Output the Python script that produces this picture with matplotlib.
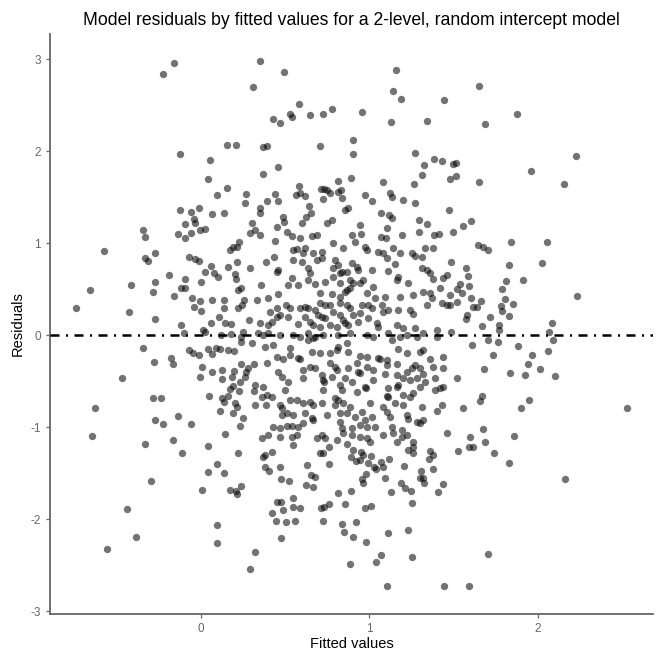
import matplotlib
matplotlib.use("Agg")
import matplotlib.pyplot as plt

# fitted values / residuals, top of the plot downwards
fitted = [
    -0.162, -0.228, 0.307, 0.151, 0.205, -0.127, 0.054, 0.040, 0.151, 0.092,
    0.268, 0.262, -0.127, -0.059, -0.015, 0.064, 0.137, -0.043, -0.097, -0.039,
    -0.345, -0.333, -0.140, -0.063, -0.010, 0.024, -0.095, 0.301, 0.291, 0.317,
    0.349, 0.490, 1.158, 1.142, 1.187, 1.443, 0.583, 0.527, 0.539, 0.646,
    0.725, 0.779, 0.954, 0.428, 0.468, 1.128, 1.342, 0.904, 0.904, 0.369,
    0.389, 0.704, 0.454, 0.365, 1.269, 1.385, 1.433, 1.322, 1.496, 1.514,
    1.312, 1.479, 1.512, 0.890, 0.811, 1.078, 1.266, 0.583, 0.710, 0.730,
    0.749, 0.765, 0.811, 0.832, 0.837, 0.563, 0.587, 0.617, 0.438, 0.389,
    0.454, 0.722, 0.973, 1.013, 1.122, 1.132, 1.197, 1.269, 0.642, 0.650,
    0.349, 0.349, 0.854, 0.874, 1.068, 1.118, 1.132, 1.474, 0.488, 0.493,
    0.597, 0.622, 0.746, 0.775, 0.448, 0.944, 1.102, 1.294, 1.342, 1.296,
    1.495, 1.385, 1.415, 0.349, 0.508, 0.537, 0.587, 0.656, 0.686, 0.898,
    0.948, 1.068, 1.098, 1.649, 1.877, 1.687, 2.226, 1.958, 2.155, 1.653,
    1.605, 1.556,
    # left middle
    -0.578, -0.273, -0.333, -0.317, -0.075, -0.039, -0.014, 0.169, 0.188, 0.214,
    0.224, 0.159, 0.214, 0.291, 0.059, 0.024, 0.076, 0.099, 0.199, 0.205,
    -0.662, -0.416, -0.277, -0.287, -0.194, -0.097, -0.004, -0.122, -0.099, -0.162,
    0.218, 0.238, -0.054, -0.010, 0.065, 0.135, 0.254, -0.045, -0.004, 0.135,
    0.218, 0.244, -0.743, -0.428, -0.277, 0.103, 0.059, 0.143, 0.178, 0.284,
    -0.119, -0.105, 0.010, 0.020, 0.119, 0.178, 0.248, 0.238, 0.234, 0.301,
    -0.348, -0.075, -0.049, -0.015, 0.040, 0.089, 0.109, 0.065, 0.159, 0.194,
    -0.281, -0.178, -0.168, 0.006, 0.062, 0.123, 0.194, 0.238, 0.278, 0.268,
    0.313, -0.008, 0.125, 0.184, 0.262, 0.228, 0.188, 0.169, 0.222, 0.317,
    0.313, -0.470, 0.044, 0.123, 0.135, 0.159, 0.199, 0.214, 0.321, -0.287,
    -0.241, -0.630, 0.111, 0.188, 0.248, -0.139, -0.273, -0.228, -0.063, 0.228,
    -0.652, -0.168, 0.139,
    # right middle
    1.841, 2.057, 1.647, 1.677, 1.706, 1.828, 2.027, 1.485, 1.574, 1.587,
    1.538, 1.518, 1.548, 1.593, 1.810, 1.911, 1.790, 2.232, 1.605, 1.663,
    1.522, 1.479, 1.617, 1.641, 1.806, 1.851, 1.780, 1.786, 1.831, 1.716,
    1.578, 1.574, 2.083, 1.669, 1.770, 1.772, 1.485, 2.069, 2.093, 1.703,
    1.766, 1.609, 1.883, 2.059, 1.736, 1.964, 1.944, 2.014, 1.681, 1.835,
    1.926, 2.105, 1.518, 1.667, 1.657, 1.950, 1.901, 1.556, 2.529, 1.677,
    1.596, 1.857, 1.687,
    # centre, above zero
    0.438, 0.785, 0.914, 1.191, 0.543, 0.567, 0.617, 0.606, 0.666, 0.716,
    0.844, 0.973, 0.983, 1.052, 1.082, 1.138, 1.181, 1.251, 1.271, 1.330,
    1.379, 0.385, 0.432, 0.547, 0.597, 0.686, 0.716, 0.795, 0.815, 0.894,
    0.924, 1.102, 1.152, 1.310, 0.458, 0.448, 0.636, 0.646, 0.785, 0.835,
    0.864, 0.933, 1.013, 1.112, 1.310, 1.340, 1.360, 0.537, 0.636, 0.735,
    0.785, 0.825, 0.884, 0.904, 0.963, 1.171, 1.162, 1.376, 1.459, 1.439,
    0.353, 0.517, 0.577, 0.676, 0.825, 0.864, 0.884, 0.944, 1.023, 1.231,
    1.419, 0.329, 0.398, 0.458, 0.706, 0.775, 0.825, 0.854, 0.983, 1.033,
    1.092, 1.181, 1.257, 1.320, 1.360, 1.370, 1.479, 0.448, 0.504, 0.527,
    0.587, 0.617, 0.636, 0.676, 0.706, 0.735, 0.765, 0.785, 0.825, 0.864,
    0.884, 0.954, 0.993, 1.013, 1.073, 1.112, 1.171, 1.340, 1.429, 1.459,
    0.408, 0.448, 0.468, 0.517, 0.617, 0.696, 0.716, 0.735, 0.825, 0.844,
    0.904, 0.944, 0.993, 1.082, 1.241, 1.260, 0.349, 0.398, 0.419, 0.577,
    0.646, 0.662, 0.706, 0.765, 0.805, 0.854, 0.874, 0.933, 1.043, 1.052,
    1.162, 1.201, 1.271, 1.400, 0.339, 0.369, 0.398, 0.468, 0.547, 0.587,
    0.636, 0.676, 0.725, 0.815, 0.884, 0.983, 1.023, 1.112, 1.181, 1.221,
    1.320, 1.400,
    # centre, below zero
    0.379, 0.428, 0.527, 0.815, 0.864, 0.636, 0.666, 1.132, 1.281, 0.448,
    0.488, 0.527, 0.577, 0.656, 0.706, 0.765, 0.805, 0.874, 0.944, 0.983,
    1.052, 1.102, 1.171, 1.221, 1.300, 1.320, 1.360, 1.439, 0.584, 1.062,
    0.389, 0.458, 0.606, 0.646, 0.676, 0.765, 0.795, 0.805, 0.874, 0.924,
    0.933, 0.983, 1.023, 1.102, 1.162, 1.221, 1.251, 1.271, 1.300, 1.379,
    1.435, 0.941, 0.478, 0.517, 0.606, 0.716, 0.725, 0.775, 0.825, 0.854,
    0.894, 0.973, 1.023, 1.092, 1.162, 1.171, 1.201, 1.241, 1.281, 1.320,
    1.330, 1.389, 0.732, 0.982, 0.369, 0.359, 0.389, 0.419, 0.498, 0.725,
    0.835, 0.924, 1.102, 1.112, 1.162, 1.201, 1.260, 1.300, 1.419, 1.439,
    1.389, 1.110, 0.468, 0.527, 0.567, 0.606, 0.646, 0.666, 0.716, 0.795,
    0.815, 0.844, 0.795, 0.884, 1.003, 1.082, 1.102, 1.152, 1.201, 1.241,
    1.310, 1.429, 0.385, 0.477, 0.478, 0.508, 0.547, 0.617, 0.656, 0.746,
    0.825, 0.864, 0.914, 0.954, 0.973, 1.013, 1.122, 1.221, 1.231, 1.281,
    1.320, 1.400, 0.664, 0.428, 0.468, 0.508, 0.537, 0.577, 0.606, 0.825,
    0.835, 0.894, 0.944, 0.983, 1.033, 1.132, 1.191, 1.300, 0.359, 0.398,
    0.468, 0.537, 0.567, 0.686, 0.716, 0.735, 0.805, 0.844, 0.894, 0.944,
    0.983, 1.003, 1.082, 1.142, 1.191, 1.221, 1.162, 1.260, 1.459,
    # lower left
    -0.337, -0.117, 0.040, 0.218, 0.093, 0.040, 0.133, -0.301, 0.004, 0.169,
    0.208, 0.214, 0.238, -0.442, 0.093, -0.390, 0.093, -0.559, 0.321, 0.291,
    # lower centre
    0.547, 0.379, 0.419, 0.369, 0.379, 0.404, 0.468, 0.472, 0.521, 0.627,
    0.652, 0.676, 0.622, 0.662, 0.706, 0.722, 0.759, 0.759, 0.864, 0.890,
    0.904, 0.920, 0.944, 0.948, 0.963, 1.007, 0.993, 1.027, 1.039, 1.067,
    1.078, 0.979, 0.954, 0.960, 1.114, 1.092, 1.128, 1.257, 1.231, 1.260,
    1.205, 1.187, 1.211, 1.247, 1.254, 1.360, 1.376, 1.356, 1.376, 1.304,
    1.300, 1.320, 1.326, 1.439, 1.405, 1.528, 0.811, 0.890, 0.854, 0.710,
    0.730, 0.759, 0.725, 0.448, 0.472, 0.543, 0.547, 0.587, 0.488, 0.422,
    0.442, 0.502, 0.557, 0.973, 1.007, 0.838, 0.850, 0.920, 0.900, 0.979,
    1.112, 1.231, 0.474, 0.884, 1.067, 1.039, 1.254, 1.102, 1.445,
    # lower right
    1.592, 1.617, 1.740, 1.829, 2.162, 1.703, 1.592,
]

resid = [
    2.963, 2.840, 2.702, 2.072, 2.065, 1.974, 1.902, 1.696, 1.601, 1.522,
    1.533, 1.438, 1.362, 1.343, 1.384, 1.315, 1.333, 1.261, 1.210, 1.224,
    1.148, 1.065, 1.098, 1.115, 1.145, 1.152, 1.061, 1.217, 1.115, 1.145,
    2.982, 2.865, 2.887, 2.659, 2.568, 2.554, 2.511, 2.405, 2.376, 2.391,
    2.402, 2.457, 2.430, 2.348, 2.311, 2.318, 2.333, 2.120, 1.974, 2.047,
    2.061, 2.054, 1.826, 1.753, 1.985, 1.920, 1.895, 1.854, 1.859, 1.876,
    1.742, 1.699, 1.732, 1.707, 1.680, 1.670, 1.645, 1.620, 1.587, 1.593,
    1.579, 1.543, 1.554, 1.579, 1.489, 1.525, 1.543, 1.517, 1.533, 1.463,
    1.463, 1.478, 1.522, 1.457, 1.543, 1.507, 1.474, 1.438, 1.409, 1.326,
    1.387, 1.326, 1.362, 1.380, 1.333, 1.304, 1.272, 1.359, 1.283, 1.235,
    1.224, 1.283, 1.224, 1.253, 1.180, 1.199, 1.163, 1.253, 1.213, 1.126,
    1.120, 1.090, 1.098, 1.090, 1.126, 1.079, 1.054, 1.083, 1.090, 1.090,
    1.101, 1.072, 1.061, 2.713, 2.402, 2.293, 1.949, 1.786, 1.645, 1.666,
    1.246, 1.191,
    # left middle
    0.916, 0.891, 0.837, 0.808, 0.854, 0.829, 0.808, 0.927, 0.963, 0.963,
    1.017, 0.746, 0.793, 0.728, 0.753, 0.691, 0.674, 0.637, 0.663, 0.609,
    0.492, 0.547, 0.583, 0.474, 0.655, 0.612, 0.576, 0.511, 0.511, 0.430,
    0.492, 0.517, 0.409, 0.373, 0.384, 0.384, 0.384, 0.311, 0.264, 0.293,
    0.300, 0.329, 0.300, 0.250, 0.177, 0.196, 0.137, 0.137, 0.120, 0.166,
    0.112, 0.028, 0.058, 0.039, 0.003, 0.014, 0.033, -0.015, -0.076, -0.087,
    -0.141, -0.160, -0.196, -0.214, -0.149, -0.141, -0.149, -0.203, -0.160, -0.171,
    -0.287, -0.243, -0.312, -0.348, -0.396, -0.377, -0.388, -0.315, -0.359, -0.396,
    -0.315, -0.450, -0.475, -0.450, -0.450, -0.504, -0.548, -0.584, -0.602, -0.540,
    -0.602, -0.467, -0.660, -0.678, -0.722, -0.657, -0.739, -0.776, -0.758, -0.685,
    -0.685, -0.793, -0.820, -0.848, -0.896, -0.877, -0.921, -0.967, -0.964, -0.986,
    -1.098, -1.141, -1.073,
    # right middle
    1.011, 1.011, 0.982, 0.957, 0.927, 0.764, 0.783, 0.793, 0.728, 0.648,
    0.554, 0.500, 0.457, 0.539, 0.593, 0.601, 0.503, 0.424, 0.409, 0.373,
    0.359, 0.329, 0.308, 0.308, 0.391, 0.337, 0.315, 0.264, 0.210, 0.202,
    0.221, 0.174, 0.130, 0.098, 0.112, 0.058, 0.039, 0.033, -0.054, -0.051,
    -0.073, -0.109, -0.120, -0.171, -0.214, -0.217, -0.315, -0.370, -0.370, -0.410,
    -0.432, -0.442, -0.467, -0.663, -0.714, -0.703, -0.787, -0.793, -0.787, -1.018,
    -1.109, -1.098, -1.163,
    # centre, above zero
    1.025, 1.000, 1.011, 1.090, 0.927, 0.938, 0.946, 0.891, 0.891, 0.909,
    0.946, 0.963, 0.927, 0.909, 0.891, 0.952, 0.891, 0.891, 0.865, 0.946,
    0.946, 0.793, 0.854, 0.818, 0.800, 0.818, 0.837, 0.818, 0.764, 0.783,
    0.746, 0.837, 0.772, 0.854, 0.710, 0.691, 0.728, 0.674, 0.728, 0.691,
    0.691, 0.710, 0.710, 0.699, 0.735, 0.710, 0.674, 0.620, 0.601, 0.583,
    0.637, 0.674, 0.601, 0.565, 0.601, 0.637, 0.601, 0.612, 0.655, 0.626,
    0.547, 0.547, 0.547, 0.554, 0.565, 0.492, 0.511, 0.565, 0.528, 0.565,
    0.511, 0.384, 0.402, 0.446, 0.457, 0.446, 0.420, 0.474, 0.457, 0.402,
    0.420, 0.420, 0.438, 0.474, 0.457, 0.409, 0.438, 0.300, 0.329, 0.293,
    0.293, 0.311, 0.300, 0.275, 0.348, 0.329, 0.329, 0.257, 0.348, 0.329,
    0.293, 0.329, 0.329, 0.293, 0.329, 0.275, 0.275, 0.329, 0.348, 0.329,
    0.257, 0.202, 0.221, 0.202, 0.202, 0.221, 0.202, 0.185, 0.221, 0.166,
    0.221, 0.239, 0.185, 0.257, 0.275, 0.228, 0.130, 0.112, 0.141, 0.120,
    0.141, 0.112, 0.093, 0.112, 0.093, 0.130, 0.112, 0.148, 0.130, 0.093,
    0.112, 0.076, 0.076, 0.058, 0.022, 0.003, 0.022, 0.003, 0.003, -0.015,
    0.022, -0.015, 0.003, 0.003, 0.022, 0.003, -0.015, 0.022, -0.015, 0.003,
    0.022, -0.015,
    # centre, below zero
    -0.124, -0.105, -0.141, -0.124, -0.087, -0.051, -0.033, -0.051, -0.015, -0.233,
    -0.258, -0.214, -0.243, -0.178, -0.196, -0.196, -0.160, -0.178, -0.222, -0.233,
    -0.243, -0.268, -0.149, -0.196, -0.178, -0.160, -0.258, -0.233, -0.263, -0.258,
    -0.304, -0.396, -0.377, -0.341, -0.359, -0.304, -0.341, -0.377, -0.359, -0.304,
    -0.396, -0.341, -0.377, -0.323, -0.315, -0.396, -0.359, -0.323, -0.359, -0.341,
    -0.352, -0.410, -0.450, -0.504, -0.467, -0.432, -0.486, -0.450, -0.540, -0.467,
    -0.504, -0.559, -0.486, -0.424, -0.432, -0.540, -0.467, -0.486, -0.461, -0.424,
    -0.504, -0.467, -0.508, -0.573, -0.559, -0.667, -0.649, -0.667, -0.595, -0.595,
    -0.595, -0.613, -0.657, -0.576, -0.559, -0.649, -0.630, -0.559, -0.576, -0.559,
    -0.595, -0.676, -0.758, -0.703, -0.703, -0.739, -0.722, -0.758, -0.739, -0.685,
    -0.703, -0.739, -0.758, -0.776, -0.739, -0.776, -0.830, -0.739, -0.758, -0.667,
    -0.776, -0.758, -0.758, -0.785, -0.866, -0.848, -0.866, -0.848, -0.902, -0.866,
    -0.848, -0.848, -0.885, -0.830, -0.921, -0.885, -0.885, -0.866, -0.910, -0.946,
    -0.921, -0.823, -0.926, -0.993, -1.011, -0.983, -0.983, -0.993, -0.957, -0.939,
    -1.011, -1.011, -0.975, -0.993, -0.993, -0.993, -1.029, -0.957, -1.120, -1.084,
    -1.102, -1.102, -1.084, -1.120, -1.084, -1.120, -1.138, -1.065, -1.084, -1.102,
    -1.120, -1.157, -1.084, -1.065, -1.102, -1.084, -1.157, -1.157, -1.065,
    # lower left
    -1.185, -1.283, -1.207, -1.283, -1.402, -1.489, -1.500, -1.580, -1.682, -1.682,
    -1.689, -1.728, -1.635, -1.891, -2.062, -2.196, -2.254, -2.326, -2.352, -2.540,
    # lower centre
    -1.192, -1.301, -1.272, -1.326, -1.435, -1.472, -1.428, -1.565, -1.580, -1.410,
    -1.518, -1.537, -1.627, -1.652, -1.276, -1.283, -1.211, -1.402, -1.182, -1.320,
    -1.247, -1.363, -1.355, -1.272, -1.301, -1.309, -1.391, -1.428, -1.457, -1.380,
    -1.428, -1.508, -1.565, -1.609, -1.345, -1.554, -1.700, -1.211, -1.247, -1.283,
    -1.417, -1.602, -1.663, -1.689, -1.820, -1.258, -1.301, -1.348, -1.457, -1.472,
    -1.548, -1.554, -1.602, -1.620, -1.700, -1.254, -1.711, -1.689, -1.837, -1.880,
    -1.863, -1.837, -2.015, -1.815, -1.809, -1.772, -1.863, -1.874, -1.899, -1.928,
    -2.018, -2.033, -2.015, -1.874, -1.855, -2.054, -2.135, -2.026, -2.196, -2.243,
    -2.146, -2.116, -2.207, -2.486, -2.388, -2.461, -2.413, -2.725, -2.725,
    # lower right
    -1.211, -1.217, -1.276, -1.391, -1.565, -2.380, -2.725,
]

xticks = [0, 1, 2]
yticks = [-3, -2, -1, 0, 1, 2, 3]

plt.rcParams["font.family"] = ["Liberation Sans", "DejaVu Sans"]
plt.rcParams["axes.unicode_minus"] = False

fig = plt.figure(figsize=(6.6, 6.51), dpi=100)
ax = fig.add_axes([0.0753, 0.0573, 0.9145, 0.8905])

ax.scatter(fitted, resid, s=28, c="black", alpha=0.55, linewidths=0, zorder=2)
ax.axhline(0, color="black", lw=1.8, linestyle=(0, (3.6, 2.6, 0.8, 2.6)), zorder=3)

ax.set_xlim(-0.901, 2.687)
ax.set_ylim(-3.026, 3.275)
ax.set_xticks(xticks)
ax.set_yticks(yticks)

for side in ["top", "right"]:
    ax.spines[side].set_visible(False)
for side in ["left", "bottom"]:
    ax.spines[side].set_color("#666666")
    ax.spines[side].set_linewidth(1.3)
ax.tick_params(length=3, width=0.9, color="#666666", labelcolor="#666666", labelsize=8.5)

ax.set_xlabel("Fitted values", fontsize=10.5, labelpad=1.5)
ax.set_ylabel("Residuals", fontsize=10.5, labelpad=4)
fig.text(351.5 / 660, 1 - 20.5 / 651, "Model residuals by fitted values for a 2-level, random intercept model",
         ha="center", va="center", fontsize=12.7)

fig.savefig("out.png", dpi=100)
